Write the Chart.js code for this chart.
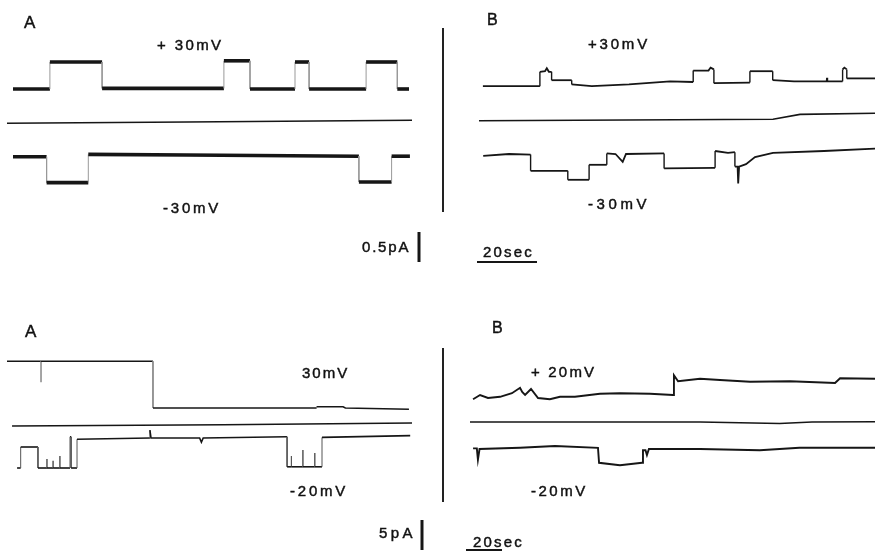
<!DOCTYPE html>
<html>
<head>
<meta charset="utf-8">
<script src="https://cdn.jsdelivr.net/npm/chart.js@4.4.1/dist/chart.umd.min.js"></script>
<style>
html, body { margin: 0; padding: 0; background: #fff; }
#fig { position: relative; width: 875px; height: 551px; overflow: hidden; }
canvas { position: absolute; }
.lbl { position: absolute; font-family: "Liberation Sans", Arial, sans-serif; color: #111; white-space: nowrap; line-height: 1; -webkit-text-stroke: 0.45px #111; }
.sep { position: absolute; width: 1.5px; background: #222; }
</style>
</head>
<body>
<div id="fig">
  <canvas id="topA"></canvas>
  <canvas id="topB"></canvas>
  <canvas id="botA"></canvas>
  <canvas id="botB"></canvas>
  <div class="sep" style="left:442px;top:28px;height:184px"></div>
  <div class="sep" style="left:442px;top:348px;height:154px"></div>
</div>
<script>
// scale bars
const barSec = 20;
const topBarPA = 0.5;
const botBarPA = 5;

// traces: [time (s), current (pA)], current measured from the middle (zero) line
// upper record, panel A
const topAUp = [[2.0,0.55],[14.3,0.55],[14.3,1.0],[31.7,1.0],[31.7,0.56],[72.3,0.56],[72.3,1.02],[81.0,1.02],[81.0,0.55],
  [96.0,0.55],[96.0,1.0],[100.7,1.0],[100.7,0.55],[119.7,0.55],[119.7,1.0],[130.1,1.0],[130.1,0.55],[134.0,0.55]];
const topAMid = [[0,-0.02],[60,0],[135,0.03]];
const topALow = [[2.0,-0.58],[13.2,-0.58],[13.2,-1.01],[27.1,-1.01],[27.1,-0.54],[60,-0.55],[117.3,-0.57],[117.3,-1.0],
  [128.2,-1.0],[128.2,-0.57],[134.3,-0.57]];

// upper record, panel B
const topBUp = [[1.3,0.58],[20.3,0.58],[20.3,0.82],[22.0,0.83],[22.6,0.88],[23.3,0.82],[24.2,0.82],[24.2,0.68],[30.9,0.68],
  [30.9,0.61],[37.6,0.58],[50,0.61],[63.7,0.66],[71.4,0.65],[71.4,0.84],[76.5,0.84],[77.2,0.89],[78.3,0.86],[78.3,0.63],
  [90.3,0.64],[90.3,0.83],[97.9,0.83],[97.9,0.68],[105,0.66],[115.9,0.66],[116,0.72],[116.1,0.66],[121.2,0.66],
  [121.2,0.86],[121.8,0.89],[122.6,0.86],[122.6,0.71],[132,0.71]];
const topBMid = [[0,0.005],[98,0.03],[107,0.11],[132,0.13]];
const topBLow = [[1.4,-0.58],[10,-0.55],[17.2,-0.56],[17.2,-0.83],[29.6,-0.83],[29.6,-0.98],[36.7,-0.98],[36.7,-0.73],
  [42.6,-0.73],[42.6,-0.54],[45.5,-0.55],[47.9,-0.68],[49,-0.55],[61.7,-0.54],[61.7,-0.79],[78.7,-0.78],[78.7,-0.5],
  [83,-0.53],[85.3,-0.52],[85.3,-0.76],[86.2,-0.76],[86.4,-1.04],[86.7,-0.76],[89,-0.72],[92,-0.6],[98,-0.53],
  [115,-0.5],[132,-0.46]];

// lower record, panel A
const botAUp = [[0,10.8],[18.9,10.8],[18.9,7.3],[18.9,10.8],[81.1,10.8],[81.1,3.0],[172,3.0],[172,3.2],[186.7,3.2],
  [188,3.0],[223.3,2.8]];
const botAMid = [[2.8,0],[120,0.2],[225,0.5]];
const botALow = [[5.6,-7.0],[7.6,-7.0],[7.6,-3.5],[14.6,-3.5],[17.2,-3.5],[17.2,-7.0],[22.2,-7.0],[22.2,-5.5],[22.2,-7.0],
  [25.6,-7.0],[25.6,-5.8],[25.6,-7.0],[29.4,-7.0],[29.4,-5.0],[29.4,-7.0],[35,-7.0],[35,-1.8],[35.6,-1.8],[35.6,-7.0],
  [38.9,-7.0],[38.9,-2.2],[79.4,-2.0],[79.4,-0.7],[80,-2.0],[107,-2.0],[108,-2.7],[109,-2.0],[155.6,-1.8],[155.6,-6.8],
  [158,-6.8],[158,-5.0],[158,-6.8],[164.4,-6.8],[164.4,-4.0],[164.4,-6.8],[171,-6.8],[171,-4.5],[171,-6.8],[175,-6.8],
  [175,-1.9],[224,-1.6]];

// lower record, panel B
const botBUp = [[1.7,3.8],[5.6,4.5],[10,4.0],[16.7,4.2],[23.3,4.8],[27.8,5.7],[29,5.0],[30.6,4.5],[33.9,5.5],[37.8,4.0],
  [44.4,3.8],[50,4.2],[58.3,4.2],[72.2,4.7],[83.3,4.8],[100,4.7],[112.8,4.5],[113.3,7.8],[115.6,6.8],[127.8,7.2],
  [138.9,7.0],[155.6,6.7],[177.8,6.8],[202.8,6.5],[205.6,7.3],[225,7.2]];
const botBMid = [[0,0],[127.8,0],[172,-0.25],[190,0],[225,0.05]];
const botBLow = [[1.7,-4.4],[3.8,-4.4],[4.4,-6.3],[5.3,-4.5],[27.8,-4.3],[47.2,-4.0],[71.1,-4.3],[71.7,-6.8],[83.3,-7.2],
  [95.6,-6.8],[96.1,-4.7],[97.5,-4.7],[98.3,-5.5],[99.4,-4.5],[127.8,-4.5],[161,-4.7],[183,-4.3],[225,-4.3]];

const ink = '#161616';

function trace(points, width, vertWidth, vertColor) {
  const isVert = c => c.p0.parsed.x === c.p1.parsed.x;
  return {
    data: points.map(p => ({x: p[0], y: p[1]})),
    borderColor: ink,
    borderWidth: width,
    pointRadius: 0,
    tension: 0,
    clip: false,
    segment: {
      borderWidth: c => isVert(c) ? vertWidth : width,
      borderColor: c => isVert(c) ? vertColor : ink
    }
  };
}

// draws the pA / sec scale bars, length from the scales
const scaleBars = {
  id: 'bars',
  afterDraw(chart, args, opts) {
    const {ctx, scales: {x, y}} = chart;
    ctx.save();
    ctx.strokeStyle = ink;
    if (opts.v) {
      const len = Math.abs(y.getPixelForValue(0) - y.getPixelForValue(opts.v.pa));
      ctx.lineWidth = 3;
      ctx.beginPath(); ctx.moveTo(opts.v.x, opts.v.y); ctx.lineTo(opts.v.x, opts.v.y + len); ctx.stroke();
    }
    if (opts.h) {
      const len = Math.abs(x.getPixelForValue(opts.h.sec) - x.getPixelForValue(0));
      ctx.lineWidth = 2;
      ctx.beginPath(); ctx.moveTo(opts.h.x, opts.h.y); ctx.lineTo(opts.h.x + len, opts.h.y); ctx.stroke();
    }
    ctx.restore();
  }
};

function panel(id, box, datasets, bars) {
  const cv = document.getElementById(id);
  cv.width = box.w; cv.height = box.h;
  cv.style.left = box.left + 'px';
  cv.style.top = box.top + 'px';
  const ox = box.x0 - box.left, oy = box.y0 - box.top;
  new Chart(cv, {
    type: 'line',
    data: {datasets},
    options: {
      responsive: false,
      animation: false,
      events: [],
      layout: {padding: 0},
      plugins: {legend: {display: false}, tooltip: {enabled: false}, bars: bars || {}},
      scales: {
        x: {type: 'linear', display: false, min: -ox / box.sx, max: (box.w - ox) / box.sx},
        y: {type: 'linear', display: false, min: -(box.h - oy) / box.sy, max: oy / box.sy}
      }
    },
    plugins: [scaleBars]
  });
}

panel('topA', {left: 0, top: 0, w: 440, h: 280, x0: 7, y0: 122, sx: 3, sy: 60}, [
  trace(topAUp, 3.6, 1, '#999'),
  trace(topAMid, 1.6, 1, ink),
  trace(topALow, 3.6, 1, '#999')
]);
panel('topB', {left: 410, top: 0, w: 465, h: 280, x0: 479, y0: 121, sx: 3, sy: 60}, [
  trace(topBUp, 1.8, 1.4, ink),
  trace(topBMid, 1.6, 1.4, ink),
  trace(topBLow, 1.8, 1.4, ink)
], {v: {x: 9, y: 232, pa: topBarPA}, h: {x: 67, y: 262, sec: barSec}});
panel('botA', {left: 0, top: 300, w: 440, h: 251, x0: 7, y0: 426, sx: 1.8, sy: 6}, [
  trace(botAUp, 1.6, 1, '#888'),
  trace(botAMid, 1.6, 1, ink),
  trace(botALow, 1.6, 1, '#555')
]);
panel('botB', {left: 410, top: 300, w: 465, h: 251, x0: 470, y0: 422, sx: 1.8, sy: 6}, [
  trace(botBUp, 1.9, 1.4, ink),
  trace(botBMid, 1.6, 1.4, ink),
  trace(botBLow, 1.9, 1.4, ink)
], {v: {x: 12, y: 220, pa: botBarPA}, h: {x: 56, y: 250, sec: barSec}});

// labels: text, left, baseline, font size, letter spacing
const labels = [
  ['A', 24, 28, 17, 0], ['+ 30mV', 157, 50, 15, 2.4], ['-30mV', 163, 213, 15, 2.8],
  ['B', 487, 26, 16, 0], ['+30mV', 588, 49, 15, 2.8], ['-30mV', 588, 209, 15, 3.6],
  ['0.5pA', 362, 252, 15, 1.8], ['20sec', 483, 257, 15, 2.2],
  ['A', 25, 337, 17, 0], ['30mV', 302, 378, 15, 2.0], ['-20mV', 290, 496, 15, 2.8],
  ['B', 492, 334, 16, 0], ['+ 20mV', 531, 377, 15, 2.2], ['-20mV', 531, 496, 15, 2.5],
  ['5pA', 379, 538, 15, 3.4], ['20sec', 473, 547, 15, 2.2]
];
const fig = document.getElementById('fig');
labels.forEach(([t, x, base, fs, ls]) => {
  const d = document.createElement('div');
  d.className = 'lbl';
  d.textContent = t;
  d.style.left = x + 'px';
  d.style.top = (base - 0.85 * fs) + 'px';
  d.style.fontSize = fs + 'px';
  d.style.letterSpacing = ls + 'px';
  fig.appendChild(d);
});
</script>
</body>
</html>
